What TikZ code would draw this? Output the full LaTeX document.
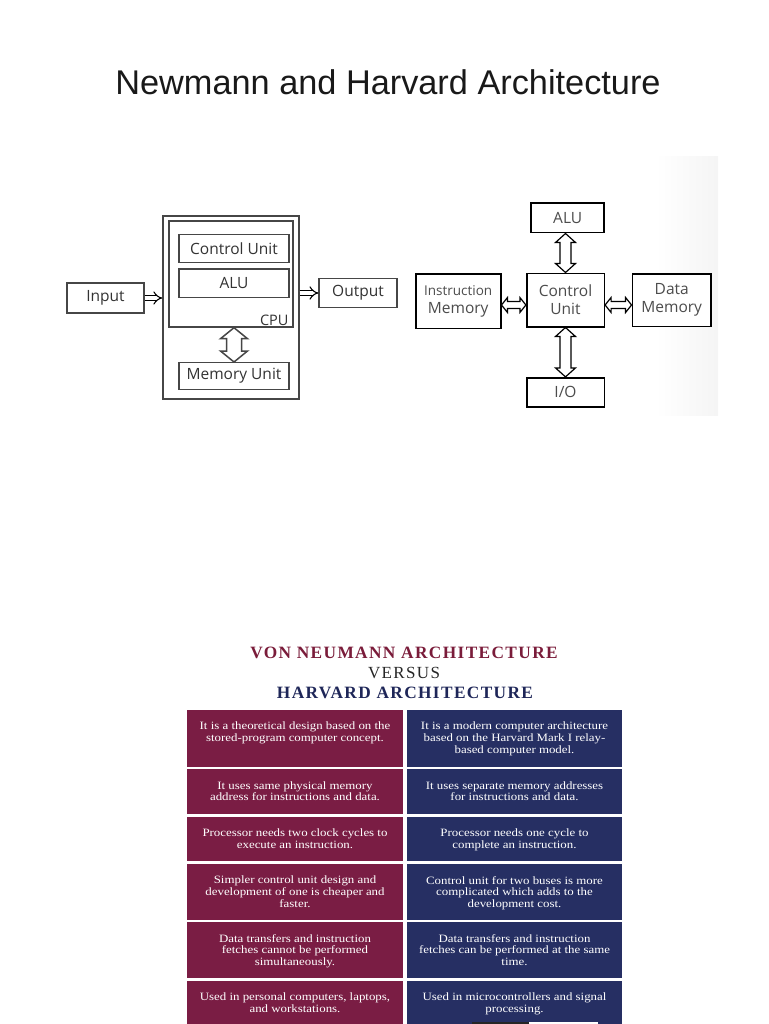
\documentclass[tikz,border=0pt]{standalone}
\usepackage{fontspec}
\setmainfont{Liberation Serif}
\newfontfamily\titlefont{Liberation Sans}
\newfontfamily\boxfont{Open Sans}
\newfontfamily\headfont[LetterSpace=8]{Liberation Serif}
\newfontfamily\cellfont[FakeStretch=1.15]{Liberation Serif}
\usetikzlibrary{arrows.meta, calc}
\definecolor{vnred}{RGB}{122,29,68}
\definecolor{hvblue}{RGB}{38,47,99}
\definecolor{vnhead}{RGB}{122,28,58}
\definecolor{hvhead}{RGB}{30,38,88}
\definecolor{boxgray}{RGB}{70,70,70}

% block arrows, both ends: start, end, shaft half width, head half width, head length (pt)
\newcommand\vblockarrow[6][]{%
	\draw[blockarr, #1] let \p1=#2, \p2=#3 in
	(\x1,\y1) -- ({\x1+#5pt},{\y1-#6pt}) -- ({\x1+#4pt},{\y1-#6pt}) -- ({\x1+#4pt},{\y2+#6pt})
	-- ({\x1+#5pt},{\y2+#6pt}) -- (\x1,\y2) -- ({\x1-#5pt},{\y2+#6pt}) -- ({\x1-#4pt},{\y2+#6pt})
	-- ({\x1-#4pt},{\y1-#6pt}) -- ({\x1-#5pt},{\y1-#6pt}) -- cycle;}
\newcommand\hblockarrow[6][]{%
	\draw[blockarr, #1] let \p1=#2, \p2=#3 in
	(\x1,\y1) -- ({\x1+#6pt},{\y1+#5pt}) -- ({\x1+#6pt},{\y1+#4pt}) -- ({\x2-#6pt},{\y1+#4pt})
	-- ({\x2-#6pt},{\y1+#5pt}) -- (\x2,\y1) -- ({\x2-#6pt},{\y1-#5pt}) -- ({\x2-#6pt},{\y1-#4pt})
	-- ({\x1+#6pt},{\y1-#4pt}) -- ({\x1+#6pt},{\y1-#5pt}) -- cycle;}

\begin{document}
\begin{tikzpicture}[x=1pt, y=-1pt,
		nbox/.style={draw=boxgray, line width=1.4pt, fill=white, inner sep=0pt, font=\boxfont\fontsize{15.5}{16}\selectfont, text=black!80},
		hbox/.style={draw=black, line width=1.6pt, fill=white, inner sep=0pt, align=center, font=\boxfont\fontsize{15.5}{18}\selectfont, text=black!70},
		thinarr/.style={double, double distance=3.5pt, line width=1.1pt, -Implies},
		blockarr/.style={draw=black, line width=1.2pt, fill=white, line join=miter},
		celltext/.style={text=white, align=center, anchor=north, inner sep=0pt, font=\cellfont\fontsize{11.2}{11.6}\selectfont}]
		\useasboundingbox (0,0) rectangle (768,1024);

		% title
		\node[font=\titlefont\fontsize{34.3}{40}\selectfont, text=black!90] (title) at (388,82) {Newmann and Harvard Architecture};

		% von neumann
		\shade[left color=white, right color=black!4] (655,157) rectangle (718,415);
		\node[nbox, minimum width=77pt, minimum height=30pt] (input) at (105.5,298) {Input};
		\node[nbox, minimum width=136pt, minimum height=183pt] (cpuout) at (231,307.5) {};
		\node[nbox, minimum width=124pt, minimum height=106pt] (cpu) at (231,274) {};
		\node[font=\boxfont\fontsize{14.5}{15}\selectfont, text=black!80, anchor=south east, inner sep=0pt] (cpulbl) at ([shift={(-5pt,2pt)}]cpu.south east) {CPU};
		\node[nbox, minimum width=110pt, minimum height=28pt] (cu) at (234,248.3) {Control Unit};
		\node[nbox, minimum width=110pt, minimum height=28.7pt] (alu) at (234,283.3) {ALU};
		\node[nbox, minimum width=110pt, minimum height=26.6pt] (mem) at (234,376) {Memory Unit};
		\node[nbox, minimum width=77.7pt, minimum height=29.4pt] (output) at (358,293) {Output};
		\draw[thinarr] (input.east) -- (input.east -| cpuout.west);
		\draw[thinarr] (cpuout.east |- output.west) -- (output.west);
		\vblockarrow[draw=boxgray, line width=1.5pt]{(mem.north |- cpu.south)}{(mem.north)}{7.5}{13.5}{11}

		% harvard
		\node[hbox, minimum width=73pt, minimum height=29.4pt] (halu) at (567.7,218) {ALU};
		\node[hbox, minimum width=77.6pt, minimum height=53.4pt] (hcu) at (565.5,300) {Control\\Unit};
		\node[hbox, minimum width=85pt, minimum height=54.3pt] (imem) at (458.2,301.2) {\fontsize{13.5}{18}\selectfont Instruction\\Memory};
		\node[hbox, minimum width=78.7pt, minimum height=52.7pt] (dmem) at (671.7,300.3) {Data\\Memory};
		\node[hbox, minimum width=77.6pt, minimum height=29pt] (io) at (565.5,392.2) {I/O};
		\coordinate (midy) at (0,305);
		\vblockarrow{(hcu.north |- halu.south)}{(hcu.north)}{5.5}{10}{9}
		\vblockarrow{(hcu.south)}{(hcu.south |- io.north)}{5.5}{10}{9}
		\hblockarrow{(imem.east |- midy)}{(hcu.west |- midy)}{3.5}{7.5}{6}
		\hblockarrow{(hcu.east |- midy)}{(dmem.west |- midy)}{3.5}{7.5}{6}

		% versus table
		\node[font=\headfont\bfseries\fontsize{17.3}{20}\selectfont, text=vnhead] (vntitle) at (404,652.5) {VON NEUMANN ARCHITECTURE};
		\node[font=\headfont\fontsize{17}{20}\selectfont, text=black!85] (versus) at (404,673) {VERSUS};
		\node[font=\headfont\bfseries\fontsize{17.3}{20}\selectfont, text=hvhead] (hvtitle) at (405,693) {HARVARD ARCHITECTURE};
		\foreach \t/\b in {710/766.5, 769.3/814, 816.7/861, 864/920, 922.3/978.3, 980.7/1030} {
				\fill[vnred] (187.3,\t) rectangle (402.7,\b);
				\fill[hvblue] (407.3,\t) rectangle (621.7,\b);
			}
		\node[celltext] (vn1) at (295,722) {It is a theoretical design based on the\\stored-program computer concept.};
		\node[celltext] (hv1) at (514.5,722) {It is a modern computer architecture\\based on the Harvard Mark I relay-\\based computer model.};
		\node[celltext] (vn2) at (295,781.3) {It uses same physical memory\\address for instructions and data.};
		\node[celltext] (hv2) at (514.5,781.3) {It uses separate memory addresses\\for instructions and data.};
		\node[celltext] (vn3) at (295,828.7) {Processor needs two clock cycles to\\execute an instruction.};
		\node[celltext] (hv3) at (514.5,828.7) {Processor needs one cycle to\\complete an instruction.};
		\node[celltext] (vn4) at (295,876) {Simpler control unit design and\\development of one is cheaper and\\faster.};
		\node[celltext] (hv4) at (514.5,876) {Control unit for two buses is more\\complicated which adds to the\\development cost.};
		\node[celltext] (vn5) at (295,934.3) {Data transfers and instruction\\fetches cannot be performed\\simultaneously.};
		\node[celltext] (hv5) at (514.5,934.3) {Data transfers and instruction\\fetches can be performed at the same\\time.};
		\node[celltext] (vn6) at (295,992.7) {Used in personal computers, laptops,\\and workstations.};
		\node[celltext] (hv6) at (514.5,992.7) {Used in microcontrollers and signal\\processing.};
		\fill[black!85] (472,1022) rectangle (529,1030);
		\fill[white] (529,1022) rectangle (598,1030);
	\end{tikzpicture}
\end{document}
